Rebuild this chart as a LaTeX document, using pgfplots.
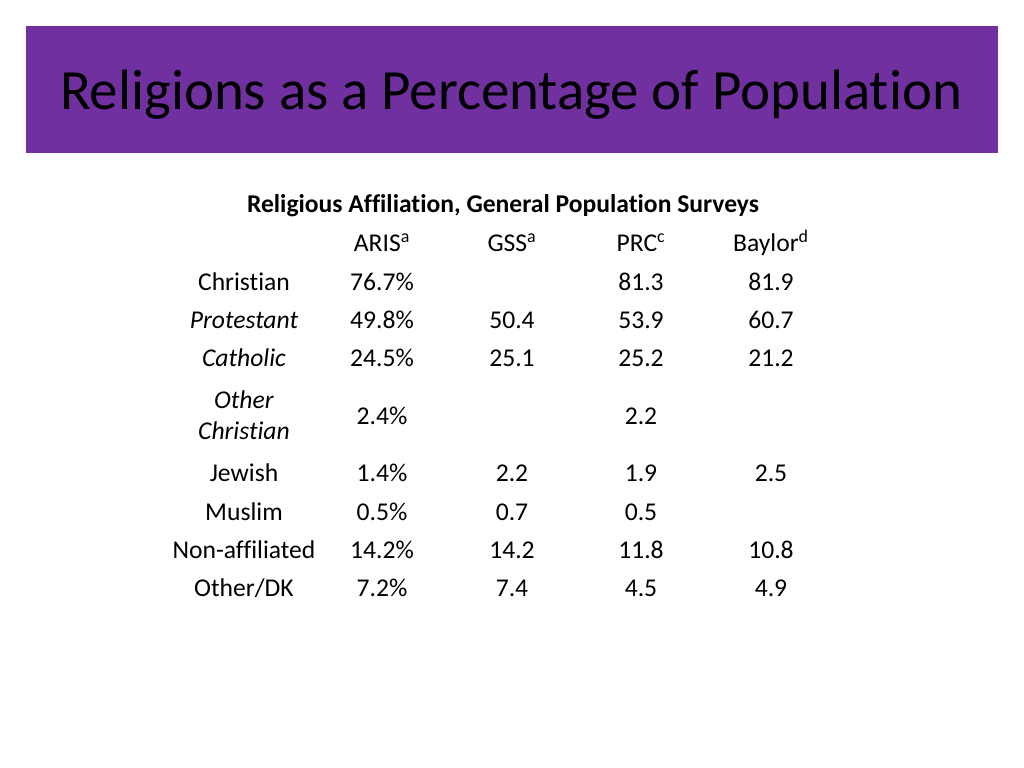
\documentclass[border=0pt]{standalone}
\usepackage{pgfplots}
\pgfplotsset{compat=1.18}
\usepackage{pgfplotstable}
\usepackage{fontspec}
\setmainfont[Ligatures=NoCommon]{Carlito}
\definecolor{slidepurple}{HTML}{7030A0}

% x = column centre, y = row centre (pixels from top)
\pgfplotstableread{
x y lab
244 282 Christian
244 320 {\textit{Protestant}}
244 358 {\textit{Catholic}}
244 400 {\textit{Other}}
244 431 {\textit{Christian}}
244 473 Jewish
244 512 Muslim
244 550 Non-affiliated
244 588 Other/DK
}\rowlabels

\pgfplotstableread{
x y lab
382 243 {ARIS\textsuperscript{a}}
512 243 {GSS\textsuperscript{a}}
641 243 {PRC\textsuperscript{c}}
771 243 {Baylor\textsuperscript{d}}
}\colheads

\pgfplotstableread{
x y lab
382 282 76.7\%
382 320 49.8\%
382 358 24.5\%
382 416 2.4\%
382 473 1.4\%
382 512 0.5\%
382 550 14.2\%
382 588 7.2\%
}\aris

\pgfplotstableread{
x y lab
512 320 50.4
512 358 25.1
512 473 2.2
512 512 0.7
512 550 14.2
512 588 7.4
}\gss

\pgfplotstableread{
x y lab
641 282 81.3
641 320 53.9
641 358 25.2
641 416 2.2
641 473 1.9
641 512 0.5
641 550 11.8
641 588 4.5
}\prc

\pgfplotstableread{
x y lab
771 282 81.9
771 320 60.7
771 358 21.2
771 473 2.5
771 550 10.8
771 588 4.9
}\baylor

\begin{document}
\begin{tikzpicture}
\begin{axis}[
    width=720pt, height=540pt,
    scale only axis,
    hide axis,
    xmin=0, xmax=1024,
    ymin=0, ymax=768,
    y dir=reverse,
    clip=false,
    point meta=explicit symbolic,
    nodes near coords,
    every node near coord/.append style={anchor=center, inner sep=0pt,
        font=\fontsize{18}{22}\selectfont, text=black},
]
\fill[white] (axis cs:0,0) rectangle (axis cs:1024,768);
\fill[slidepurple] (axis cs:26,26) rectangle (axis cs:998,153);
\node[font=\fontsize{40}{48}\selectfont, anchor=center] at (axis cs:511,95)
    {Religions as a Percentage of Population};
\node[font=\fontsize{18}{22}\selectfont\bfseries, anchor=center] at (axis cs:503,206)
    {Religious Affiliation, General Population Surveys};

\addplot[only marks, mark=none] table[x=x, y=y, meta=lab] {\rowlabels};
\addplot[only marks, mark=none] table[x=x, y=y, meta=lab] {\colheads};
\addplot[only marks, mark=none] table[x=x, y=y, meta=lab] {\aris};
\addplot[only marks, mark=none] table[x=x, y=y, meta=lab] {\gss};
\addplot[only marks, mark=none] table[x=x, y=y, meta=lab] {\prc};
\addplot[only marks, mark=none] table[x=x, y=y, meta=lab] {\baylor};
\end{axis}
\end{tikzpicture}
\end{document}
